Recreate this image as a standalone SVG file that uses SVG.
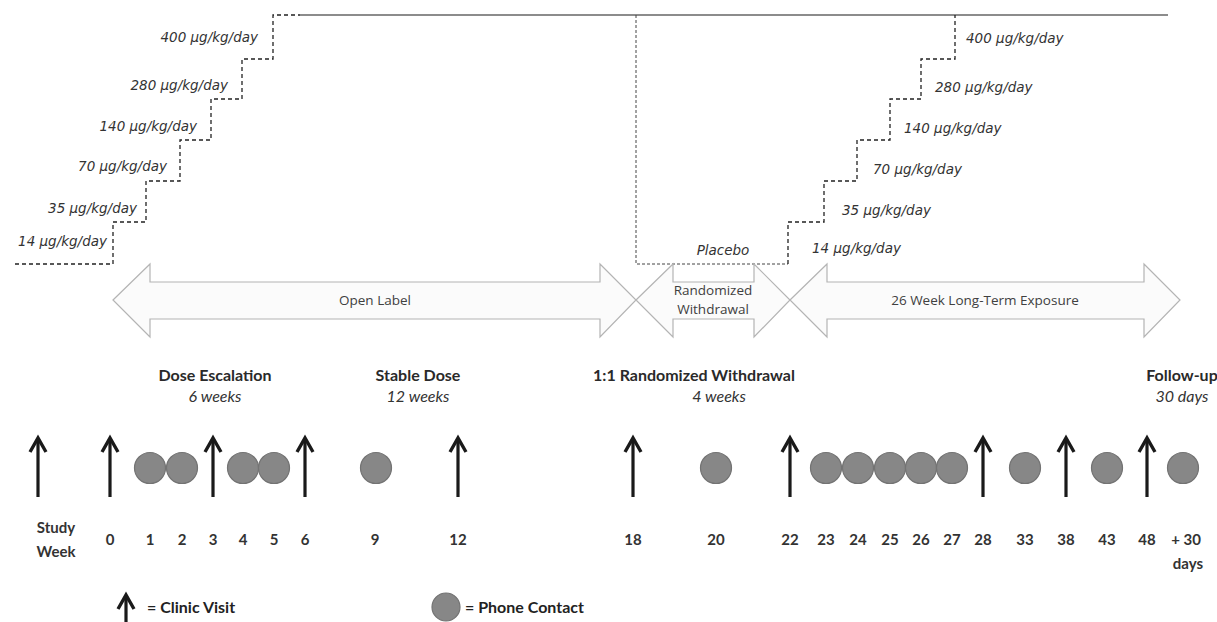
<svg xmlns="http://www.w3.org/2000/svg" xmlns:xlink="http://www.w3.org/1999/xlink" width="1217" height="622" viewBox="0 0 1217 622">
<style>
.dose{font-family:"DejaVu Sans",Verdana,sans-serif;font-style:italic;font-size:13.5px;fill:#333}
.step{fill:none;stroke:#222;stroke-width:1.3;stroke-dasharray:4 3}
.thin{fill:none;stroke:#444;stroke-width:1;stroke-dasharray:3 2}
.band{fill:#fbfbfb;stroke:#b4b4b4;stroke-width:1.2;stroke-linejoin:miter}
.bandtxt{font-family:"Open Sans",sans-serif;font-size:13.5px;fill:#404040;text-anchor:middle}
.head{font-family:Lato,"Liberation Sans",sans-serif;font-weight:bold;font-size:16px;fill:#2a2a2a;text-anchor:middle}
.sub{font-family:Lato,"Liberation Sans",sans-serif;font-style:italic;font-size:16px;fill:#333;text-anchor:middle}
.num{font-family:Lato,"Liberation Sans",sans-serif;font-weight:bold;font-size:15px;fill:#333;text-anchor:middle}
.leg{font-family:Lato,"Liberation Sans",sans-serif;font-weight:bold;font-size:16px;fill:#222}
.phone{fill:#878787;stroke:#737373;stroke-width:1.2}
</style>
<defs>
<g id="clinic">
<line x1="0" y1="-27" x2="0" y2="30" stroke="#1a1a1a" stroke-width="3.2"/>
<polyline points="-8,-15 0,-29 8,-15" fill="none" stroke="#1a1a1a" stroke-width="3.4" stroke-linejoin="miter"/>
</g>
</defs>

<g id="dose-steps">
<path class="step" d="M15,264 H113 V222 H146 V181 H180 V140 H211 V99 H242 V59 H273 V15 H300"/>
<path d="M300,15 H1168" fill="none" stroke="#1a1a1a" stroke-width="1.2"/>
<path class="thin" d="M636,15 V264 H788"/>
<path class="step" d="M788,264 V222 H824 V181 H857 V140 H890 V99 H921 V59 H955 V15"/>
<text class="dose" x="258" y="42" text-anchor="end">400 µg/kg/day</text>
<text class="dose" x="228" y="90" text-anchor="end">280 µg/kg/day</text>
<text class="dose" x="197" y="131" text-anchor="end">140 µg/kg/day</text>
<text class="dose" x="167" y="171" text-anchor="end">70 µg/kg/day</text>
<text class="dose" x="137" y="213" text-anchor="end">35 µg/kg/day</text>
<text class="dose" x="107" y="246" text-anchor="end">14 µg/kg/day</text>
<text class="dose" x="966" y="43">400 µg/kg/day</text>
<text class="dose" x="935" y="92">280 µg/kg/day</text>
<text class="dose" x="904" y="133">140 µg/kg/day</text>
<text class="dose" x="873" y="174">70 µg/kg/day</text>
<text class="dose" x="842" y="215">35 µg/kg/day</text>
<text class="dose" x="812" y="253">14 µg/kg/day</text>
<text class="dose" x="723" y="255" text-anchor="middle">Placebo</text>
</g>

<g id="open-label">
<polygon class="band" points="113,300 150,264 150,282 600,282 600,264 636,300 600,337 600,319 150,319 150,337"/>
<text class="bandtxt" x="375" y="305">Open Label</text>
</g>
<g id="randomized-withdrawal">
<polygon class="band" points="636,300 673,264 673,282 754,282 754,264 790,300 754,337 754,319 673,319 673,337"/>
<text class="bandtxt" x="713" y="295">Randomized</text>
<text class="bandtxt" x="713" y="314">Withdrawal</text>
</g>
<g id="long-term">
<polygon class="band" points="790,300 827,264 827,282 1144,282 1144,264 1180,300 1144,337 1144,319 827,319 827,337"/>
<text class="bandtxt" x="985" y="305">26 Week Long-Term Exposure</text>
</g>

<g id="phase-labels">
<text class="head" x="215" y="381">Dose Escalation</text>
<text class="sub" x="215" y="402">6 weeks</text>
<text class="head" x="418" y="381">Stable Dose</text>
<text class="sub" x="418" y="402">12 weeks</text>
<text class="head" x="694" y="381">1:1 Randomized Withdrawal</text>
<text class="sub" x="719" y="402">4 weeks</text>
<text class="head" x="1182" y="381">Follow-up</text>
<text class="sub" x="1182" y="402">30 days</text>
</g>

<g id="clinic-visits">
<use xlink:href="#clinic" href="#clinic" transform="translate(38,467)"/>
<use xlink:href="#clinic" href="#clinic" transform="translate(110,467)"/>
<use xlink:href="#clinic" href="#clinic" transform="translate(213,467)"/>
<use xlink:href="#clinic" href="#clinic" transform="translate(305,467)"/>
<use xlink:href="#clinic" href="#clinic" transform="translate(458,467)"/>
<use xlink:href="#clinic" href="#clinic" transform="translate(633,467)"/>
<use xlink:href="#clinic" href="#clinic" transform="translate(790,467)"/>
<use xlink:href="#clinic" href="#clinic" transform="translate(983,467)"/>
<use xlink:href="#clinic" href="#clinic" transform="translate(1066,467)"/>
<use xlink:href="#clinic" href="#clinic" transform="translate(1147,467)"/>
</g>

<g id="phone-contacts">
<circle class="phone" cx="150" cy="468" r="15.5"/>
<circle class="phone" cx="182" cy="468" r="15.5"/>
<circle class="phone" cx="243" cy="468" r="15.5"/>
<circle class="phone" cx="274" cy="468" r="15.5"/>
<circle class="phone" cx="376" cy="468" r="15.5"/>
<circle class="phone" cx="716" cy="468" r="15.5"/>
<circle class="phone" cx="826" cy="468" r="15.5"/>
<circle class="phone" cx="858" cy="468" r="15.5"/>
<circle class="phone" cx="890" cy="468" r="15.5"/>
<circle class="phone" cx="921" cy="468" r="15.5"/>
<circle class="phone" cx="952" cy="468" r="15.5"/>
<circle class="phone" cx="1025" cy="468" r="15.5"/>
<circle class="phone" cx="1107" cy="468" r="15.5"/>
<circle class="phone" cx="1183" cy="468" r="15.5"/>
</g>

<g id="study-weeks">
<text class="num" x="56" y="533" font-size="16">Study</text>
<text class="num" x="56" y="557" font-size="16">Week</text>
<text class="num" x="110" y="545">0</text>
<text class="num" x="150" y="545">1</text>
<text class="num" x="182" y="545">2</text>
<text class="num" x="213" y="545">3</text>
<text class="num" x="243" y="545">4</text>
<text class="num" x="274" y="545">5</text>
<text class="num" x="305" y="545">6</text>
<text class="num" x="375" y="545">9</text>
<text class="num" x="458" y="545">12</text>
<text class="num" x="633" y="545">18</text>
<text class="num" x="716" y="545">20</text>
<text class="num" x="790" y="545">22</text>
<text class="num" x="826" y="545">23</text>
<text class="num" x="858" y="545">24</text>
<text class="num" x="890" y="545">25</text>
<text class="num" x="921" y="545">26</text>
<text class="num" x="952" y="545">27</text>
<text class="num" x="983" y="545">28</text>
<text class="num" x="1025" y="545">33</text>
<text class="num" x="1066" y="545">38</text>
<text class="num" x="1107" y="545">43</text>
<text class="num" x="1147" y="545">48</text>
<text class="num" x="1186" y="545">+ 30</text>
<text class="num" x="1188" y="569">days</text>
</g>

<g id="legend">
<use xlink:href="#clinic" href="#clinic" transform="translate(126,624)"/>
<text class="leg" x="147" y="613">= Clinic Visit</text>
<circle class="phone" cx="446" cy="607" r="14"/>
<text class="leg" x="465" y="613">= Phone Contact</text>
</g>
</svg>
